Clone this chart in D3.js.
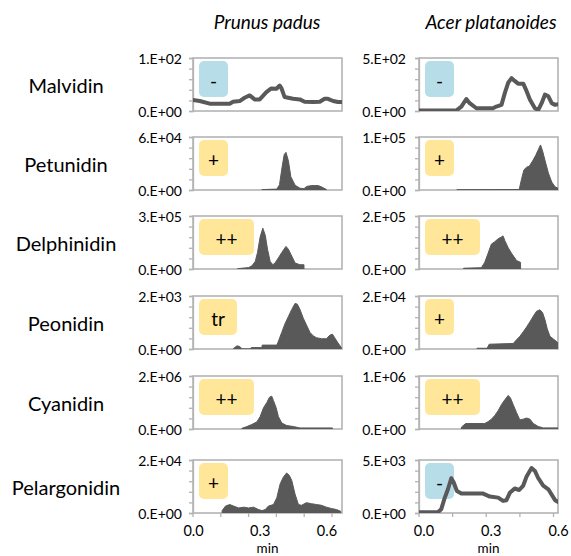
<!DOCTYPE html>
<html><head><meta charset="utf-8">
<script src="https://cdn.jsdelivr.net/npm/d3@7"></script>
<style>body{margin:0;background:#fff}svg{display:block}text{font-family:Lato,"Liberation Sans",sans-serif;fill:#000}</style>
</head><body><svg id="c" width="571" height="556"></svg>
<script>
const compounds = ["Malvidin","Petunidin","Delphinidin","Peonidin","Cyanidin","Pelargonidin"];
const species = ["Prunus padus","Acer platanoides"];
const yMaxPrunus = [1e2, 6e4, 3e5, 2e3, 2e6, 2e4];
const yMaxAcer = [5e2, 1e5, 2e5, 2e4, 1e6, 5e3];
const badgePrunus = ["-","+","++","tr","++","+"];
const badgeAcer = ["-","+","++","+","++","-"];
const xTickValues = [0, 0.3, 0.6];
const xTickLabels = ["0.0","0.3","0.6"];
const xAxisTitle = "min";

// [time (min), signal]
const malvidinPrunus = [[0,20.6],[0.03,18.8],[0.075,13.8],[0.165,13.8],[0.18,17.5],[0.21,18.8],[0.232,25],[0.255,29.4],[0.277,21.9],[0.3,21.9],[0.33,35.6],[0.352,42.5],[0.375,41.9],[0.39,48],[0.397,43.8],[0.412,26.3],[0.45,23],[0.48,21.9],[0.502,17.5],[0.54,16.9],[0.57,17.5],[0.592,23],[0.607,23],[0.63,18.8],[0.652,16.9],[0.67,16.9]];
const malvidinAcer = [[-0.02,5],[0.146,5],[0.169,42],[0.191,113],[0.206,74],[0.236,26],[0.31,26],[0.325,42],[0.348,58],[0.363,171],[0.378,268],[0.393,310],[0.407,284],[0.422,258],[0.445,258],[0.46,187],[0.475,106],[0.497,26],[0.512,10],[0.527,74],[0.542,155],[0.557,139],[0.572,74],[0.587,58],[0.601,65]];
const petunidinPrunus = [[0.31,500],[0.377,1000],[0.389,6000],[0.4,25000],[0.41,40000],[0.418,42600],[0.429,33000],[0.44,15000],[0.459,5500],[0.481,2000],[0.499,1500],[0.511,4000],[0.533,5000],[0.563,5000],[0.582,3000],[0.6,500]];
const petunidinAcer = [[0.149,500],[0.427,1000],[0.437,20000],[0.448,38000],[0.46,43000],[0.472,45000],[0.487,55000],[0.5,65000],[0.512,76000],[0.522,85000],[0.531,74000],[0.542,56000],[0.557,32000],[0.572,15000],[0.587,6000],[0.601,3000]];
const delphinidinPrunus = [[0.201,2000],[0.25,8000],[0.265,18000],[0.28,43000],[0.29,93000],[0.302,182000],[0.314,231000],[0.325,191000],[0.335,112000],[0.347,43000],[0.359,24000],[0.369,34000],[0.384,63000],[0.399,93000],[0.418,128000],[0.429,112000],[0.444,73000],[0.459,34000],[0.481,24000],[0.499,24000]];
const delphinidinAcer = [[0.179,3000],[0.258,5000],[0.273,25000],[0.288,59000],[0.303,94000],[0.318,103000],[0.333,114000],[0.348,121000],[0.355,125000],[0.363,107000],[0.378,80000],[0.393,59000],[0.415,32000],[0.433,25000]];
const peonidinPrunus = [[0.183,27],[0.198,120],[0.21,93],[0.22,13],[0.221,0],[0.261,0],[0.262,53],[0.31,53],[0.311,147],[0.377,147],[0.384,293],[0.399,627],[0.414,960],[0.429,1227],[0.444,1493],[0.459,1720],[0.469,1693],[0.481,1493],[0.496,1160],[0.511,893],[0.526,627],[0.541,493],[0.555,427],[0.578,387],[0.6,387],[0.615,520],[0.627,560],[0.637,427],[0.652,227],[0.667,53]];
const peonidinAcer = [[0.239,276],[0.284,276],[0.293,1800],[0.4,2070],[0.415,3450],[0.43,4800],[0.445,6500],[0.46,8300],[0.475,10300],[0.49,12400],[0.504,14200],[0.519,14800],[0.531,13800],[0.542,11000],[0.552,7600],[0.564,4800],[0.579,3800],[0.594,2800],[0.606,1800]];
const cyanidinPrunus = [[0.22,27000],[0.243,93000],[0.265,173000],[0.287,267000],[0.302,467000],[0.317,800000],[0.332,1000000],[0.344,1200000],[0.354,1240000],[0.362,1070000],[0.374,800000],[0.384,467000],[0.399,227000],[0.421,133000],[0.451,93000],[0.481,40000],[0.54,40000],[0.627,40000]];
const cyanidinAcer = [[0.169,34000],[0.188,103000],[0.273,103000],[0.288,138000],[0.303,186000],[0.318,255000],[0.333,345000],[0.348,462000],[0.363,552000],[0.378,634000],[0.388,586000],[0.4,462000],[0.415,310000],[0.43,172000],[0.445,186000],[0.46,207000],[0.475,186000],[0.49,103000],[0.512,48000],[0.534,21000],[0.601,21000]];
const pelargonidinPrunus = [[0.131,900],[0.146,2600],[0.165,3200],[0.183,2600],[0.205,1900],[0.228,2200],[0.25,1900],[0.272,2200],[0.295,1300],[0.31,900],[0.325,1300],[0.339,2600],[0.362,3200],[0.377,5800],[0.392,11000],[0.406,13500],[0.421,15100],[0.433,14200],[0.444,12300],[0.459,7100],[0.474,3200],[0.488,2900],[0.51,3900],[0.533,3500],[0.555,3200],[0.578,2900],[0.6,2200],[0.622,1700],[0.645,1300],[0.664,650]];
const pelargonidinAcer = [[-0.02,69],[0.064,69],[0.079,345],[0.094,1380],[0.109,2240],[0.124,3280],[0.134,2930],[0.149,2070],[0.169,1830],[0.266,1830],[0.296,1550],[0.333,1450],[0.355,1140],[0.37,1210],[0.385,1900],[0.407,2310],[0.427,2170],[0.445,2590],[0.46,3450],[0.482,4240],[0.497,3970],[0.512,3280],[0.534,2590],[0.557,2240],[0.572,1720],[0.587,1210],[0.601,1030]];

const seriesPrunus = [malvidinPrunus, petunidinPrunus, delphinidinPrunus, peonidinPrunus, cyanidinPrunus, pelargonidinPrunus];
const seriesAcer = [malvidinAcer, petunidinAcer, delphinidinAcer, peonidinAcer, cyanidinAcer, pelargonidinAcer];

// ---- layout ----
const svg = d3.select("#c");
const rowTops = [58, 137, 216, 296, 376, 460];
const panelH = 53;
const cols = [
  {x0:193, x1:342, domain:[0,0.67], yMax:yMaxPrunus, badge:badgePrunus, series:seriesPrunus, labelX:182, titleX:267},
  {x0:419, x1:558, domain:[-0.02,0.6], yMax:yMaxAcer, badge:badgeAcer, series:seriesAcer, labelX:406, titleX:491}
];
const badgeColor = {"-":"#b7dde8","+":"#ffe699","++":"#ffe699","tr":"#ffe699"};
const ink = "#595959", frame = "#b3b3b3";

function sci(v){
  if (v === 0) return "0.E+00";
  const e = Math.floor(Math.log10(v) + 1e-9);
  const m = Math.round(v / Math.pow(10, e));
  return m + ".E+" + String(e).padStart(2, "0");
}

const defs = svg.append("defs");

cols.forEach((c, ci) => {
  svg.append("text").attr("x", c.titleX).attr("y", 29).attr("text-anchor","middle")
    .style("font-style","italic").style("font-size","19px").text(species[ci]);
});

compounds.forEach((name, ri) => {
  svg.append("text").attr("x", 66).attr("y", rowTops[ri] + panelH/2).attr("text-anchor","middle")
    .attr("dominant-baseline","central").style("font-size","20px").text(name);
});

compounds.forEach((name, ri) => {
  cols.forEach((c, ci) => {
    const top = rowTops[ri], bottom = top + panelH;
    const x = d3.scaleLinear().domain(c.domain).range([c.x0, c.x1]);
    const y = d3.scaleLinear().domain([0, c.yMax[ri]]).range([bottom, top]);
    const g = svg.append("g");
    const clipId = `clip${ri}_${ci}`;
    defs.append("clipPath").attr("id", clipId).append("rect")
      .attr("x", c.x0).attr("y", top - 3).attr("width", c.x1 - c.x0).attr("height", panelH + 3);

    const yAxis = d3.axisLeft(y).tickValues(d3.range(0, 6).map(i => c.yMax[ri] * i / 5))
      .tickSize(4).tickFormat("");
    const ya = g.append("g").attr("transform", `translate(${c.x0},0)`).call(yAxis);
    ya.selectAll("path,line").attr("stroke", frame).attr("stroke-width", 1.3);

    [0, c.yMax[ri]].forEach(v => {
      g.append("text").attr("x", c.labelX).attr("y", y(v)).attr("text-anchor","end")
        .attr("dominant-baseline","central").style("font-size","14px").text(sci(v));
    });

    g.append("rect").attr("x", c.x0).attr("y", top).attr("width", c.x1 - c.x0).attr("height", panelH)
      .attr("fill","none").attr("stroke", frame).attr("stroke-width", 1.6);

    const b = c.badge[ri];
    const bw = b === "++" ? 55 : (b === "tr" ? 38 : 29);
    const bh = 36;
    const bx = c.x0 + 6, by = top + 3;
    g.append("rect").attr("x", bx).attr("y", by).attr("width", bw).attr("height", bh)
      .attr("rx", 5).attr("fill", badgeColor[b]);

    const data = c.series[ri];
    if (b === "-") {
      g.append("path").datum(data).attr("clip-path", `url(#${clipId})`)
        .attr("fill","none").attr("stroke", ink).attr("stroke-width", 4)
        .attr("stroke-linejoin","round").attr("stroke-linecap","round")
        .attr("d", d3.line().x(d => x(d[0])).y(d => y(d[1])));
    } else {
      g.append("path").datum(data).attr("clip-path", `url(#${clipId})`)
        .attr("fill", ink).attr("stroke", ink).attr("stroke-width", 1)
        .attr("d", d3.area().x(d => x(d[0])).y0(bottom).y1(d => y(d[1])));
    }

    g.append("text").attr("x", bx + bw/2).attr("y", by + bh/2 + 1).attr("text-anchor","middle")
      .attr("dominant-baseline","central").style("font-size","19px").text(b);

    if (ri === compounds.length - 1) {
      const xAxis = d3.axisBottom(x).tickValues(xTickValues).tickSize(0)
        .tickFormat((d, i) => xTickLabels[i]);
      const xa = g.append("g").attr("transform", `translate(0,${bottom})`).call(xAxis);
      xa.select(".domain").remove();
      xa.selectAll("text").attr("dy", 0).attr("y", 23).style("font-size","14.5px")
        .style("font-family","Lato, sans-serif").attr("fill","#000");
      const minorStep = ci === 0 ? 0.125 : 0.15;
      const minor = d3.range(c.domain[0], c.domain[1] + 1e-6, minorStep);
      g.selectAll(null).data(minor).join("line")
        .attr("x1", d => x(d)).attr("x2", d => x(d)).attr("y1", bottom).attr("y2", bottom + 4)
        .attr("stroke", frame).attr("stroke-width", 1.3);
      g.append("text").attr("x", (c.x0 + c.x1)/2).attr("y", 553).attr("text-anchor","middle")
        .style("font-size","13.5px").text(xAxisTitle);
    }
  });
});
</script></body></html>
